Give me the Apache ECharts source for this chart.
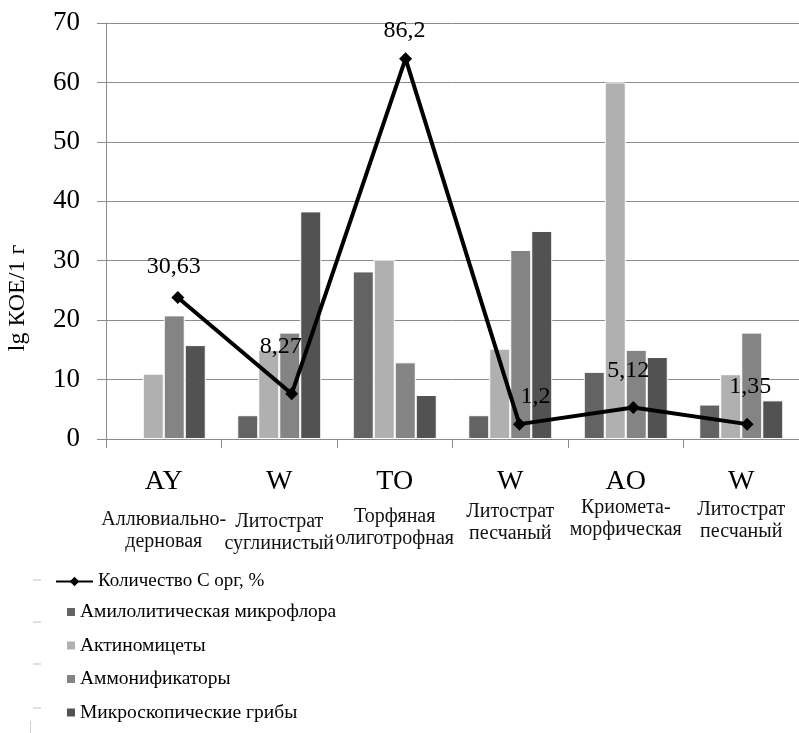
<!DOCTYPE html>
<html>
<head>
<meta charset="utf-8">
<script src="https://cdn.jsdelivr.net/npm/echarts@6/dist/echarts.min.js"></script>
<style>
html,body{margin:0;padding:0;background:#fff;}
#chart{width:799px;height:733px;}
</style>
</head>
<body>
<div id="chart"></div>
<script>
// ---- data ----
const categoryCodes = ['AY', 'W', 'TO', 'W', 'AO', 'W'];
const categoryNames = [
  ['Аллювиально-', 'дерновая'],
  ['Литострат', 'суглинистый'],
  ['Торфяная', 'олиготрофная'],
  ['Литострат', 'песчаный'],
  ['Криомета-', 'морфическая'],
  ['Литострат', 'песчаный']
];
const amylolytic = [null, 4, 28.2, 4, 11.3, 5.8];
const actinomycetes = [11, 15, 30.2, 15.2, 60, 10.9];
const ammonifiers = [20.8, 17.9, 12.9, 31.8, 15, 17.9];
const fungi = [15.8, 38.3, 7.4, 35, 13.8, 6.5];
const carbonPlotted = [23.8, 7.6, 64, 2.5, 5.3, 2.5];
const carbonLabels = ['30,63', '8,27', '86,2', '1,2', '5,12', '1,35'];
const yTicks = { min: 0, max: 70, interval: 10 };
const seriesNames = ['Количество С орг, %', 'Амилолитическая микрофлора', 'Актиномицеты', 'Аммонификаторы', 'Микроскопические грибы'];

// ---- layout / style (not data) ----
const SERIF = "'Liberation Serif', 'Times New Roman', serif";
const labelOffsets = [[-4, -31], [-11, -47], [-1, -28], [16, -27], [-5, -37], [3, -37]];
const subtitleGaps = [13, 15, 10, 5, 1, 3];
const AXIS_GRAY = '#8c8c8c';
// the line series sits on its own (hidden) axis, slightly shifted/compressed vs. the bar categories
const LINE_AXIS = { min: -0.6305, max: 5.4553 };

const rich = {
  a: { fontSize: 28, lineHeight: 28, fontFamily: SERIF, color: '#000' },
  b: { fontSize: 20, lineHeight: 22, fontFamily: SERIF, color: '#111' }
};
subtitleGaps.forEach((g, i) => { rich['g' + i] = { fontSize: 1, lineHeight: g }; });

const chart = echarts.init(document.getElementById('chart'), null, { renderer: 'canvas' });

const barSeries = (name, data, color) => ({
  name, type: 'bar', data,
  xAxisIndex: 0, yAxisIndex: 0,
  barWidth: 21, barGap: '0%',
  itemStyle: { color, borderColor: '#fff', borderWidth: 1 },
  z: 2
});

const option = {
  animation: false,
  backgroundColor: '#fff',
  grid: [
    { left: 106, top: 23, width: 695, height: 416, containLabel: false }
  ],
  xAxis: [
    {
      type: 'category',
      data: categoryCodes,
      axisLine: { show: true, onZero: false, lineStyle: { color: AXIS_GRAY, width: 1 } },
      axisTick: { show: true, length: 9, lineStyle: { color: AXIS_GRAY } },
      axisLabel: {
        interval: 0, margin: 29,
        formatter: (v, i) => `{a|${v}}\n{g${i}| }\n{b|${categoryNames[i][0]}}\n{b|${categoryNames[i][1]}}`,
        rich
      }
    },
    {
      type: 'value', show: false, position: 'bottom',
      min: LINE_AXIS.min, max: LINE_AXIS.max,
      axisLine: { show: false, onZero: false },
      splitLine: { show: false }
    }
  ],
  yAxis: [
    {
      type: 'value',
      min: yTicks.min, max: yTicks.max, interval: yTicks.interval,
      axisLine: { show: true, onZero: false, lineStyle: { color: AXIS_GRAY, width: 1 } },
      axisTick: { show: true, length: 9, lineStyle: { color: AXIS_GRAY } },
      splitLine: { show: true, lineStyle: { color: AXIS_GRAY, width: 1 } },
      axisLabel: { margin: 26, fontSize: 27, fontFamily: SERIF, color: '#000' }
    }
  ],
  legend: [
    {
      data: [seriesNames[0]],
      orient: 'vertical', left: 55, top: 572, padding: 0,
      itemWidth: 37, itemHeight: 12,
      textStyle: { fontSize: 19, fontFamily: SERIF, color: '#000' }
    },
    {
      data: seriesNames.slice(1),
      orient: 'vertical', left: 67, top: 602, padding: 0,
      itemWidth: 8, itemHeight: 8, itemGap: 13.5,
      icon: 'rect',
      itemStyle: { borderWidth: 0 },
      textStyle: { fontSize: 19.5, lineHeight: 20, fontFamily: SERIF, color: '#000' }
    }
  ],
  series: [
    barSeries(seriesNames[1], amylolytic, '#636363'),
    barSeries(seriesNames[2], actinomycetes, '#b0b0b0'),
    barSeries(seriesNames[3], ammonifiers, '#848484'),
    barSeries(seriesNames[4], fungi, '#525252'),
    {
      name: seriesNames[0], type: 'line', z: 5,
      xAxisIndex: 1, yAxisIndex: 0,
      data: carbonPlotted.map((v, i) => ({
        value: [i, v],
        label: { offset: labelOffsets[i] }
      })),
      symbol: 'diamond', symbolSize: 13,
      itemStyle: { color: '#000' },
      lineStyle: { color: '#000', width: 4 },
      label: {
        show: true, position: 'inside',
        formatter: (p) => carbonLabels[p.dataIndex],
        fontSize: 24, fontFamily: SERIF, color: '#000',
        align: 'center', verticalAlign: 'middle'
      }
    }
  ],
  graphic: [
    {
      type: 'text', x: 18, y: 298, rotation: Math.PI / 2,
      style: { text: 'lg КОЕ/1 г', font: "24px 'Liberation Serif', serif", fill: '#000', textAlign: 'center', textVerticalAlign: 'middle' }
    },
    { type: 'line', shape: { x1: 33, y1: 580, x2: 41, y2: 580 }, style: { stroke: '#c4c4c4', lineWidth: 1 } },
    { type: 'line', shape: { x1: 33, y1: 622, x2: 41, y2: 622 }, style: { stroke: '#c4c4c4', lineWidth: 1 } },
    { type: 'line', shape: { x1: 33, y1: 664, x2: 41, y2: 664 }, style: { stroke: '#c4c4c4', lineWidth: 1 } },
    { type: 'line', shape: { x1: 33, y1: 708, x2: 41, y2: 708 }, style: { stroke: '#c4c4c4', lineWidth: 1 } },
    { type: 'line', shape: { x1: 30.5, y1: 721, x2: 30.5, y2: 733 }, style: { stroke: '#d0d0d0', lineWidth: 1 } }
  ]
};
chart.setOption(option);
</script>
</body>
</html>
